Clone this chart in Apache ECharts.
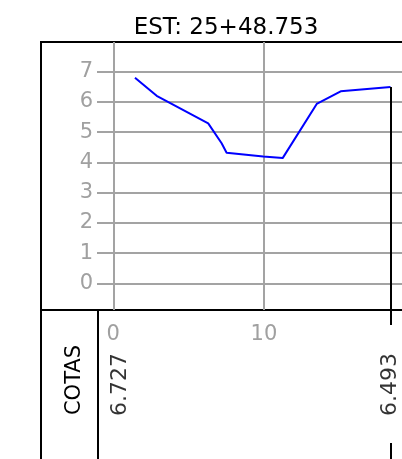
<!DOCTYPE html>
<html>
<head>
<meta charset="utf-8">
<script src="https://cdn.jsdelivr.net/npm/echarts@6/dist/echarts.min.js"></script>
<style>
html,body{margin:0;padding:0;background:#fff;}
#c{width:402px;height:459px;}
</style>
</head>
<body>
<div id="c"></div>
<script>
// ---- data ----
const titleText = 'EST: 25+48.753';
const tableLabel = 'COTAS';
const profileX = [1.44, 2.88, 6.30, 7.19, 7.52, 9.95, 11.24, 13.5, 15.09, 18.4];
const profileY = [6.80, 6.20, 5.29, 4.63, 4.32, 4.19, 4.14, 5.93, 6.35, 6.493];
const cotaX = [0.45, 18.4];
const cotaText = ['6.727', '6.493'];
const yTicks = [0, 1, 2, 3, 4, 5, 6, 7];
const xTicks = [0, 10];
const xTickLabels = [0, 10];

const X_MIN = -1.08, X_MAX = 19.16;
const Y_MIN = -0.883, Y_MAX = 7.98;
const GRID_COLOR = '#a3a3a3';
const FONT = '"DejaVu Sans", sans-serif';

const endX = profileX[profileX.length - 1];
const endY = profileY[profileY.length - 1];

const chart = echarts.init(document.getElementById('c'), null, {renderer: 'canvas'});
chart.setOption({
  animation: false,
  backgroundColor: '#fff',
  grid: [
    {left: 97, top: 42, right: 0, height: 268, containLabel: false},
    {left: 97, top: 310, right: 0, height: 149, containLabel: false}
  ],
  xAxis: [
    {
      type: 'value', gridIndex: 0, min: X_MIN, max: X_MAX,
      axisLine: {show: false},
      axisTick: {show: false, customValues: xTicks},
      splitLine: {show: true, lineStyle: {color: GRID_COLOR, width: 2}},
      axisLabel: {show: true, customValues: xTickLabels, margin: 14, color: '#a0a0a0',
                  fontSize: 21, fontFamily: FONT}
    },
    {
      type: 'value', gridIndex: 1, min: X_MIN, max: X_MAX, show: false
    }
  ],
  yAxis: [
    {
      type: 'value', gridIndex: 0, min: Y_MIN, max: Y_MAX,
      axisLine: {show: false},
      axisTick: {show: false, customValues: yTicks},
      splitLine: {show: true, lineStyle: {color: GRID_COLOR, width: 2}},
      axisLabel: {show: true, customValues: yTicks, margin: 4, color: '#a0a0a0',
                  fontSize: 21, fontFamily: FONT}
    },
    {
      type: 'value', gridIndex: 1, min: 0, max: 1, show: false
    }
  ],
  series: [
    {
      type: 'line', xAxisIndex: 0, yAxisIndex: 0,
      data: profileX.map((x, i) => [x, profileY[i]]),
      showSymbol: false, symbol: 'none',
      lineStyle: {color: '#0000ff', width: 2},
      silent: true,
      markLine: {
        silent: true, symbol: ['none', 'none'], label: {show: false},
        lineStyle: {color: '#000', width: 2, type: 'solid'},
        data: [[{coord: [endX, endY]}, {coord: [endX, Y_MIN]}]]
      }
    },
    {
      type: 'scatter', xAxisIndex: 1, yAxisIndex: 1,
      data: cotaX.map((x, i) => ({value: [x, 0.5], name: cotaText[i]})),
      symbolSize: 0,
      silent: true,
      label: {
        show: true, position: 'inside', rotate: 90, formatter: p => p.name,
        color: '#000', fontSize: 22, fontFamily: FONT
      },
      markLine: {
        silent: true, symbol: ['none', 'none'], label: {show: false},
        lineStyle: {color: '#000', width: 2, type: 'solid'},
        data: [
          [{coord: [endX, 1]}, {coord: [endX, 0.9]}],
          [{coord: [endX, 0.107]}, {coord: [endX, 0]}]
        ]
      }
    }
  ],
  graphic: [
    {type: 'text', x: 226, y: 28, style: {text: titleText, align: 'center', verticalAlign: 'middle',
      font: '23px "DejaVu Sans", sans-serif', fill: '#000'}},
    {type: 'line', shape: {x1: 41, y1: 42, x2: 402, y2: 42}, style: {stroke: '#000', lineWidth: 2}},
    {type: 'line', shape: {x1: 41, y1: 41, x2: 41, y2: 459}, style: {stroke: '#000', lineWidth: 2}},
    {type: 'line', shape: {x1: 41, y1: 310, x2: 402, y2: 310}, style: {stroke: '#000', lineWidth: 2}},
    {type: 'line', shape: {x1: 98, y1: 310, x2: 98, y2: 459}, style: {stroke: '#000', lineWidth: 2}},
    {type: 'text', x: 75, y: 380, rotation: Math.PI / 2,
      style: {text: tableLabel, align: 'center', verticalAlign: 'middle',
      font: '21px "DejaVu Sans", sans-serif', fill: '#000'}}
  ]
});
</script>
</body>
</html>
